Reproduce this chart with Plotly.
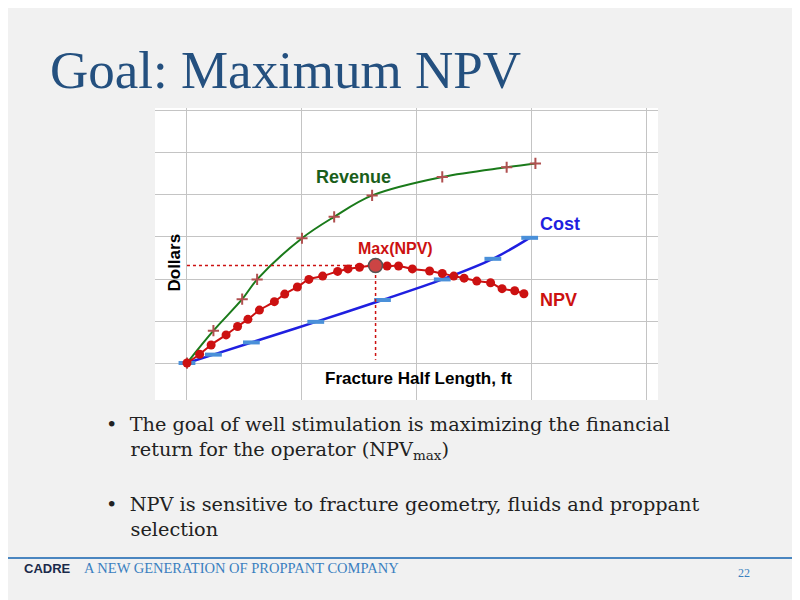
import plotly.graph_objects as go

# data (x in gridline units, y in gridline units)
rev_x = [0, 0.23, 0.48, 0.61, 1.0, 1.28, 1.61, 2.22, 2.78, 3.03]
rev_y = [0, 0.77, 1.52, 1.99, 2.97, 3.48, 3.99, 4.43, 4.66, 4.75]
cost_x = [0, 0.23, 0.56, 1.12, 1.70, 2.22, 2.66, 2.98]
cost_y = [0, 0.20, 0.49, 0.98, 1.50, 1.99, 2.48, 2.98]
npv_x = [0, 0.11, 0.21, 0.34, 0.44, 0.53, 0.63, 0.76, 0.85, 0.96, 1.06, 1.18, 1.31, 1.40,
         1.50, 1.64, 1.74, 1.84, 1.96, 2.11, 2.22, 2.32, 2.41, 2.52, 2.64, 2.74, 2.85, 2.93]
npv_y = [0, 0.21, 0.43, 0.67, 0.87, 1.04, 1.26, 1.46, 1.64, 1.81, 1.99, 2.07, 2.18, 2.24,
         2.28, 2.32, 2.31, 2.31, 2.24, 2.19, 2.13, 2.07, 2.02, 1.95, 1.91, 1.77, 1.72, 1.65]
max_x, max_y = 1.64, 2.32

# page offset of the browser (body margin)
OFF = 8
def px(x):
    return (x - OFF) / 800
def py(y):
    return 1 - (y - OFF) / 600

fig = go.Figure()
fig.add_trace(go.Scatter(x=rev_x, y=rev_y, mode='lines+markers', line_shape='spline',
                         line=dict(color='#1a7a1a', width=2),
                         marker=dict(symbol='cross-thin', size=8, line=dict(color='#b05050', width=2))))
fig.add_trace(go.Scatter(x=cost_x, y=cost_y, mode='lines+markers', line_shape='spline',
                         line=dict(color='#1f1fe0', width=2.5),
                         marker=dict(symbol='line-ew', size=12, line=dict(color='#4a90d9', width=4))))
fig.add_trace(go.Scatter(x=npv_x, y=npv_y, mode='lines+markers', line_shape='spline',
                         line=dict(color='#cc1111', width=2),
                         marker=dict(symbol='circle', size=9, color='#cc1111')))
# dotted guides to the maximum
fig.add_trace(go.Scatter(x=[0, max_x, max_x], y=[max_y, max_y, 0.08], mode='lines',
                         line=dict(color='#cc1111', width=1.5, dash='dot')))
fig.add_trace(go.Scatter(x=[max_x], y=[max_y], mode='markers',
                         marker=dict(size=14, color='#cc4444', line=dict(color='#555', width=1.5))))

lab = dict(family='Liberation Sans', size=18)
fig.add_annotation(x=1.45, y=4.43, text='<b>Revenue</b>', showarrow=False, font=dict(lab, color='#1a5e1a'))
fig.add_annotation(x=3.24, y=3.3, text='<b>Cost</b>', showarrow=False, font=dict(lab, color='#1f1fe0'))
fig.add_annotation(x=1.81, y=2.72, text='<b>Max(NPV)</b>', showarrow=False, font=dict(lab, size=16, color='#cc1111'))
fig.add_annotation(x=3.23, y=1.5, text='<b>NPV</b>', showarrow=False, font=dict(lab, color='#cc1111'))
fig.add_annotation(x=2.01, y=-0.38, text='<b>Fracture Half Length, ft</b>', showarrow=False, font=dict(lab, size=17, color='black'))
fig.add_annotation(x=-0.11, y=2.4, text='<b>Dollars</b>', textangle=-90, showarrow=False, font=dict(lab, size=17, color='black'))

serif = 'DejaVu Serif'
fig.add_annotation(xref='paper', yref='paper', x=px(48), y=py(70), xanchor='left', yanchor='middle',
                   text='Goal: Maximum NPV', showarrow=False, font=dict(family='Liberation Serif', size=53, color='#24507f'))
bullet = dict(family=serif, size=19.3, color='#222')
fig.add_annotation(xref='paper', yref='paper', x=px(104), y=py(438), xanchor='left', yanchor='middle', align='left',
                   text='•  The goal of well stimulation is maximizing the financial<br>    return for the operator (NPV<sub>max</sub>)',
                   showarrow=False, font=bullet)
fig.add_annotation(xref='paper', yref='paper', x=px(104), y=py(517), xanchor='left', yanchor='middle', align='left',
                   text='•  NPV is sensitive to fracture geometry, fluids and proppant<br>    selection',
                   showarrow=False, font=bullet)
fig.add_shape(type='line', xref='paper', yref='paper', x0=0, x1=1, y0=py(558), y1=py(558),
              line=dict(color='#4a86c0', width=2))
fig.add_annotation(xref='paper', yref='paper', x=px(22), y=py(578), xanchor='left', text='<b>CADRE</b>',
                   showarrow=False, font=dict(family='Liberation Sans', size=13, color='#1a2a4a'))
fig.add_annotation(xref='paper', yref='paper', x=px(82), y=py(578), xanchor='left',
                   text='A NEW GENERATION OF PROPPANT COMPANY', showarrow=False,
                   font=dict(family='Liberation Serif', size=14.5, color='#3a7fc0'))
fig.add_annotation(xref='paper', yref='paper', x=px(752), y=py(582), xanchor='right', text='22',
                   showarrow=False, font=dict(family='Liberation Serif', size=12, color='#3a7fc0'))

fig.update_xaxes(range=[-0.278, 4.096], domain=[px(155), px(658)], dtick=1, tick0=0,
                 showgrid=True, gridcolor='#c4c4c4', showticklabels=False, zeroline=False)
fig.update_yaxes(range=[-0.88, 6.07], domain=[py(400), py(108)], dtick=1, tick0=0,
                 showgrid=True, gridcolor='#c4c4c4', showticklabels=False, zeroline=False)
fig.update_layout(width=800, height=600, margin=dict(l=0, r=0, t=0, b=0), showlegend=False,
                  paper_bgcolor='#f1f1f1', plot_bgcolor='white')
fig.write_html('out.html')
